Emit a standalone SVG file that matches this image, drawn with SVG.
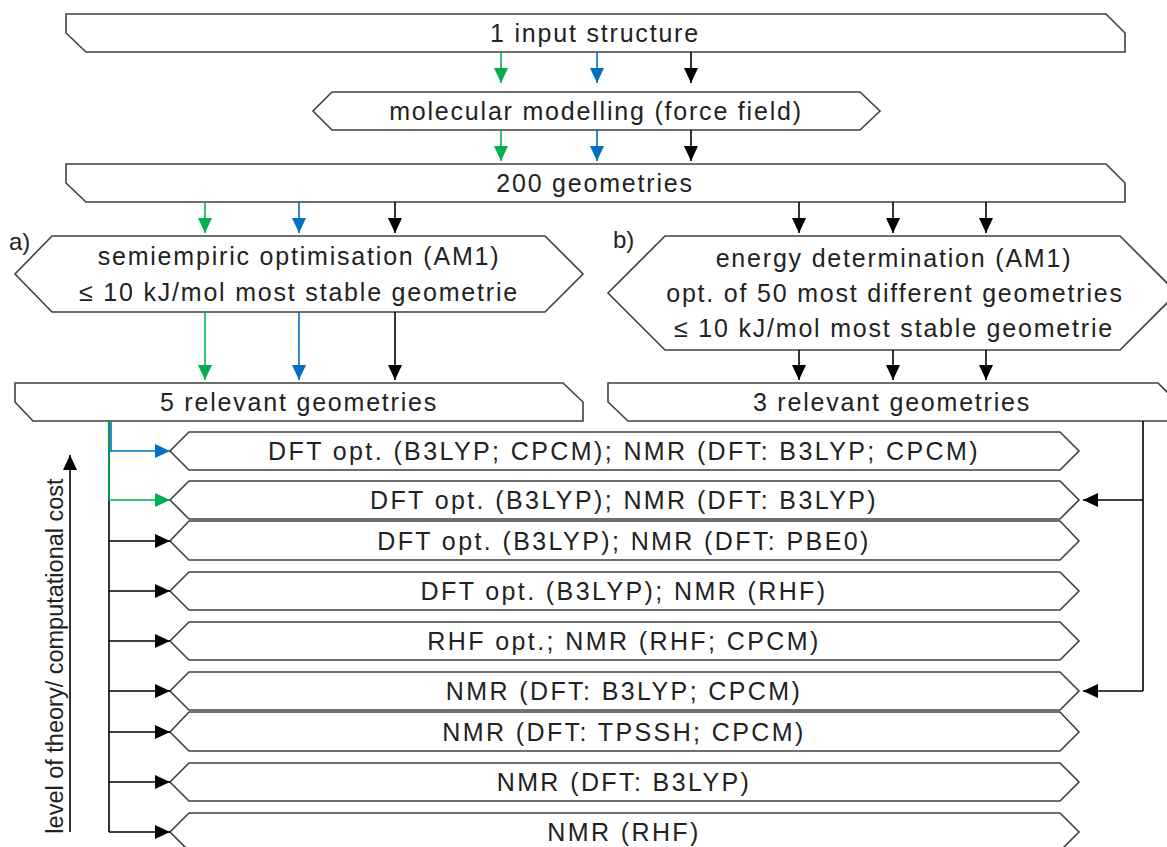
<svg xmlns="http://www.w3.org/2000/svg" width="1167" height="847" viewBox="0 0 1167 847">
<style>
.box{fill:#fff;stroke:#404040;stroke-width:1.6;stroke-linejoin:miter}
.t{font-family:"Liberation Sans",Arial,sans-serif;font-size:25px;fill:#222;text-anchor:middle;letter-spacing:1.8px}
.tl{letter-spacing:2.4px}
.lbl{font-family:"Liberation Sans",Arial,sans-serif;font-size:24px;fill:#222}
.k{stroke:#000;stroke-width:1.6;fill:none}
.g{stroke:#00b050;stroke-width:1.6;fill:none}
.b{stroke:#0070c0;stroke-width:1.6;fill:none}
</style>
<defs>
<marker id="ak" markerUnits="userSpaceOnUse" markerWidth="16" markerHeight="15" refX="15" refY="7" orient="auto"><path d="M0,0 L15,7 L0,14 Z" fill="#000"/></marker>
<marker id="ag" markerUnits="userSpaceOnUse" markerWidth="16" markerHeight="15" refX="15" refY="7" orient="auto"><path d="M0,0 L15,7 L0,14 Z" fill="#00b050"/></marker>
<marker id="ab" markerUnits="userSpaceOnUse" markerWidth="16" markerHeight="15" refX="15" refY="7" orient="auto"><path d="M0,0 L15,7 L0,14 Z" fill="#0070c0"/></marker>
</defs>

<g id="input">
<path class="box" d="M66,14 L1106,14 L1125,33 L1125,52 L86,52 L66,33 Z"/>
<text class="t" x="595" y="42">1 input structure</text>
</g>
<g id="mm">
<path class="box" d="M332,92 L860,92 L880,111 L860,130 L332,130 L313,111 Z"/>
<text class="t" x="596" y="120">molecular modelling (force field)</text>
</g>
<g id="geom200">
<path class="box" d="M66,164 L1106,164 L1125,183 L1125,202 L86,202 L66,183 Z"/>
<text class="t" x="595" y="192">200 geometries</text>
</g>
<g id="semi">
<path class="box" d="M52,236 L545,236 L583,274 L545,312 L52,312 L15,274 Z"/>
<text class="t" x="299" y="265">semiempiric optimisation (AM1)</text>
<text class="t" x="299" y="301">≤ 10 kJ/mol most stable geometrie</text>
<text class="lbl" x="9" y="250">a)</text>
</g>
<g id="energy">
<path class="box" d="M665,236 L1120,236 L1177,293 L1120,350 L665,350 L608,293 Z"/>
<text class="t" x="894" y="267">energy determination (AM1)</text>
<text class="t" x="895" y="302">opt. of 50 most different geometries</text>
<text class="t" x="894" y="337">≤ 10 kJ/mol most stable geometrie</text>
<text class="lbl" x="613" y="248">b)</text>
</g>
<g id="rel5">
<path class="box" d="M15,383 L563,383 L583,402 L583,421 L33,421 L15,402 Z"/>
<text class="t" x="299" y="411">5 relevant geometries</text>
</g>
<g id="rel3">
<path class="box" d="M608,383 L1158,383 L1177,402 L1177,421 L628,421 L608,402 Z"/>
<text class="t" x="892" y="411">3 relevant geometries</text>
</g>

<g id="m1"><path class="box" d="M189,432 L1060,432 L1079,451 L1060,470 L189,470 L170,451 Z"/><text class="t tl" x="624" y="460">DFT opt. (B3LYP; CPCM); NMR (DFT: B3LYP; CPCM)</text></g>
<g id="m2"><path class="box" d="M189,481 L1060,481 L1079,500 L1060,519 L189,519 L170,500 Z"/><text class="t tl" x="624" y="509">DFT opt. (B3LYP); NMR (DFT: B3LYP)</text></g>
<g id="m3"><path class="box" d="M189,521 L1060,521 L1079,541 L1060,560 L189,560 L170,541 Z"/><text class="t tl" x="624" y="550">DFT opt. (B3LYP); NMR (DFT: PBE0)</text></g>
<g id="m4"><path class="box" d="M189,572 L1060,572 L1079,591 L1060,610 L189,610 L170,591 Z"/><text class="t tl" x="624" y="600">DFT opt. (B3LYP); NMR (RHF)</text></g>
<g id="m5"><path class="box" d="M189,622 L1060,622 L1079,641 L1060,660 L189,660 L170,641 Z"/><text class="t tl" x="624" y="650">RHF opt.; NMR (RHF; CPCM)</text></g>
<g id="m6"><path class="box" d="M189,672 L1060,672 L1079,691 L1060,710 L189,710 L170,691 Z"/><text class="t tl" x="624" y="700">NMR (DFT: B3LYP; CPCM)</text></g>
<g id="m7"><path class="box" d="M189,712 L1060,712 L1079,732 L1060,751 L189,751 L170,732 Z"/><text class="t tl" x="624" y="741">NMR (DFT: TPSSH; CPCM)</text></g>
<g id="m8"><path class="box" d="M189,763 L1060,763 L1079,782 L1060,801 L189,801 L170,782 Z"/><text class="t tl" x="624" y="791">NMR (DFT: B3LYP)</text></g>
<g id="m9"><path class="box" d="M189,813 L1060,813 L1079,832 L1060,851 L189,851 L170,832 Z"/><text class="t tl" x="624" y="841">NMR (RHF)</text></g>

<g id="axis">
<line class="k" x1="70" y1="832" x2="70" y2="455" marker-end="url(#ak)"/>
<text class="lbl" transform="translate(63,656) rotate(-90)" text-anchor="middle" style="font-size:23.5px">level of theory/ computational cost</text>
</g>

<g id="connectors">
<line class="g" x1="501" y1="52" x2="501" y2="83" marker-end="url(#ag)"/>
<line class="b" x1="597" y1="52" x2="597" y2="83" marker-end="url(#ab)"/>
<line class="k" x1="691" y1="52" x2="691" y2="83" marker-end="url(#ak)"/>
<line class="g" x1="501" y1="130" x2="501" y2="161" marker-end="url(#ag)"/>
<line class="b" x1="597" y1="130" x2="597" y2="161" marker-end="url(#ab)"/>
<line class="k" x1="691" y1="130" x2="691" y2="161" marker-end="url(#ak)"/>
<line class="g" x1="205" y1="202" x2="205" y2="233" marker-end="url(#ag)"/>
<line class="b" x1="299" y1="202" x2="299" y2="233" marker-end="url(#ab)"/>
<line class="k" x1="395" y1="202" x2="395" y2="233" marker-end="url(#ak)"/>
<line class="k" x1="799" y1="202" x2="799" y2="233" marker-end="url(#ak)"/>
<line class="k" x1="893" y1="202" x2="893" y2="233" marker-end="url(#ak)"/>
<line class="k" x1="986" y1="202" x2="986" y2="233" marker-end="url(#ak)"/>
<line class="g" x1="205" y1="312" x2="205" y2="380" marker-end="url(#ag)"/>
<line class="b" x1="299" y1="312" x2="299" y2="380" marker-end="url(#ab)"/>
<line class="k" x1="395" y1="312" x2="395" y2="380" marker-end="url(#ak)"/>
<line class="k" x1="799" y1="350" x2="799" y2="380" marker-end="url(#ak)"/>
<line class="k" x1="893" y1="350" x2="893" y2="380" marker-end="url(#ak)"/>
<line class="k" x1="986" y1="350" x2="986" y2="380" marker-end="url(#ak)"/>
<line class="k" x1="109" y1="421" x2="109" y2="832"/>
<line class="k" x1="109" y1="541" x2="170" y2="541" marker-end="url(#ak)"/>
<line class="k" x1="109" y1="591" x2="170" y2="591" marker-end="url(#ak)"/>
<line class="k" x1="109" y1="641" x2="170" y2="641" marker-end="url(#ak)"/>
<line class="k" x1="109" y1="691" x2="170" y2="691" marker-end="url(#ak)"/>
<line class="k" x1="109" y1="732" x2="170" y2="732" marker-end="url(#ak)"/>
<line class="k" x1="109" y1="782" x2="170" y2="782" marker-end="url(#ak)"/>
<path class="k" d="M109,832 L170,832" marker-end="url(#ak)"/>
<path class="g" d="M109,421 L109,500 L170,500" marker-end="url(#ag)"/>
<path class="b" d="M111,421 L111,451 L170,451" marker-end="url(#ab)"/>
<line class="k" x1="1143" y1="421" x2="1143" y2="691"/>
<line class="k" x1="1143" y1="500" x2="1083" y2="500" marker-end="url(#ak)"/>
<line class="k" x1="1143" y1="691" x2="1083" y2="691" marker-end="url(#ak)"/>
</g>
</svg>
